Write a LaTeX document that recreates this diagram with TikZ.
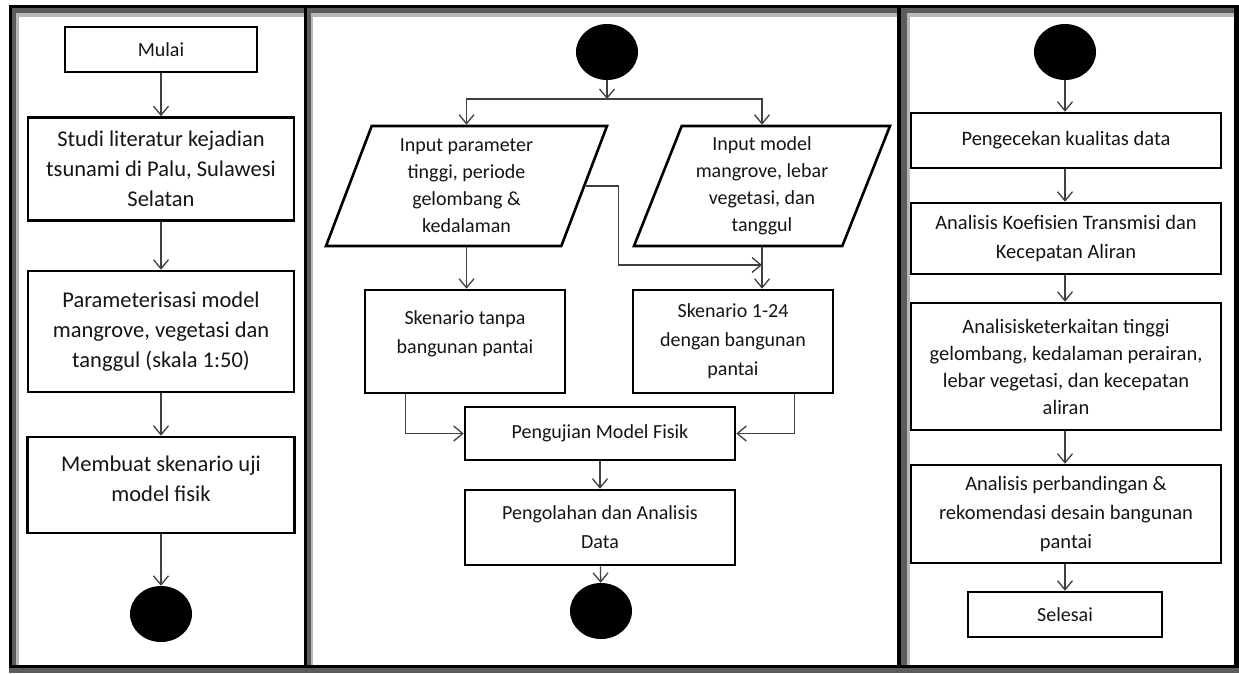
\documentclass[tikz,border=0pt]{standalone}
\usepackage{fontspec}
\setmainfont{Carlito}
\usetikzlibrary{arrows.meta,calc,positioning,shapes.geometric}
\definecolor{ink}{HTML}{151515}
\definecolor{wire}{HTML}{404040}
\definecolor{shadeDark}{HTML}{5C5C5C}
\definecolor{shadeLight}{HTML}{B8B8B8}
\tikzset{
  stepbox/.style={
    draw=black,
    line width=2.6pt,
    fill=white,
    align=center,
    text=ink,
    inner sep=2pt,
    font=\fontsize{20}{29}\selectfont
  },
  bigbox/.style={
    stepbox,
    font=\fontsize{22.5}{30}\selectfont
  },
  inputbox/.style={
    stepbox,
    trapezium,
    trapezium left angle=65,
    trapezium right angle=115,
    trapezium stretches body,
    minimum height=120pt,
    font=\fontsize{20}{27}\selectfont
  },
  dot/.style={
    ellipse,
    fill=black,
    draw=none,
    minimum width=62pt,
    minimum height=56pt,
    inner sep=0pt
  },
  flow/.style={
    -{Straight Barb[length=9pt,width=15pt]},
    draw=wire,
    line width=1.3pt
  }
}

\begin{document}
\begin{tikzpicture}[x=1pt,y=-1pt]
  \useasboundingbox (0,0) rectangle (1239,673);
  \fill[white] (0,0) rectangle (1239,673);

  % Panel frames
  \fill[shadeDark] (9,5) rectangle (1239,673);
  \fill[shadeLight] (16,13) rectangle (304,665);
  \fill[shadeLight] (311,13) rectangle (897,665);
  \fill[shadeLight] (907,13) rectangle (1234,665);
  \fill[white] (19,17) rectangle (304,665);
  \fill[white] (313,17) rectangle (897,665);
  \fill[white] (910,17) rectangle (1234,665);
  \fill[black] (9,5) rectangle (1239,8);
  \fill[black] (9,5) rectangle (12,668);
  \fill[black] (304,8) rectangle (307,668);
  \fill[black] (897,8) rectangle (901,668);
  \fill[black] (1234,8) rectangle (1239,668);
  \fill[black] (12,665) rectangle (307,668);
  \fill[black] (307,665) rectangle (901,668);
  \fill[black] (901,665) rectangle (1239,668);

  % Panel 1
  \node[stepbox, minimum width=192pt, minimum height=45pt] (mulai) at (161,49.5) {Mulai};
  \node[bigbox, minimum width=266pt, minimum height=103pt] (studi) at (161,169)
    {Studi literatur kejadian\\tsunami di Palu, Sulawesi\\Selatan};
  \node[bigbox, minimum width=266pt, minimum height=121pt] (param) at (161,331.5)
    {Parameterisasi model\\mangrove, vegetasi dan\\tanggul (skala 1:50)};
  \node[bigbox, minimum width=267pt, minimum height=96pt] (skenUji) at (161,485)
    {Membuat skenario uji\\model fisik\\[-18pt]~};
  \node[dot] (end1) at (161,614) {};

  \draw[flow] (mulai) -- (studi);
  \draw[flow] (studi) -- (param);
  \draw[flow] (param) -- (skenUji);
  \draw[flow] (skenUji) -- (end1);

  % Panel 2
  \node[dot] (start2) at (607,52) {};
  \coordinate (split) at (607,99);
  \node[inputbox, minimum width=281pt] (inL) at (466.5,186)
    {Input parameter\\tinggi, periode\\gelombang \&\\kedalaman};
  \node[inputbox, minimum width=256pt] (inR) at (762,186)
    {Input model\\mangrove, lebar\\vegetasi, dan\\tanggul};
  \coordinate (merge) at (762,265);
  \node[stepbox, minimum width=200pt, minimum height=103pt] (tanpa) at (465,341.5)
    {Skenario tanpa\\bangunan pantai\\[-11pt]~};
  \node[stepbox, minimum width=200pt, minimum height=103pt] (dengan) at (733,341.5)
    {Skenario 1-24\\dengan bangunan\\pantai};
  \node[stepbox, minimum width=270pt, minimum height=53pt] (uji) at (600,433.5)
    {Pengujian Model Fisik};
  \node[stepbox, minimum width=270pt, minimum height=75pt] (olah) at (600,527.5)
    {Pengolahan dan Analisis\\Data};
  \node[dot] (end2) at (601,611) {};

  \draw[flow] (start2) -- (split);
  \draw[flow] (split) -| (inL.north);
  \draw[flow] (split) -| (inR.north);
  \draw[flow] (inL.east) -- ++(33,0) |- (merge);
  \draw[flow] (inL.south) -- (tanpa.north -| inL.south);
  \draw[flow] (inR.south) -- (dengan.north -| inR.south);
  \draw[flow] ([xshift=42pt]tanpa.south west) |- (uji.west);
  \draw[flow] ([xshift=-40pt]dengan.south east) |- (uji.east);
  \draw[flow] (uji) -- (olah);
  \draw[flow] (olah) -- (end2);

  % Panel 3
  \node[dot] (start3) at (1065,52) {};
  \node[stepbox, minimum width=310pt, minimum height=55pt,
        font=\fontsize{20.5}{29}\selectfont] (cek) at (1066,140.5)
    {Pengecekan kualitas data};
  \node[stepbox, minimum width=310pt, minimum height=71pt,
        font=\fontsize{20.5}{29}\selectfont] (koef) at (1066,238.5)
    {Analisis Koefisien Transmisi dan\\Kecepatan Aliran};
  \node[stepbox, minimum width=310pt, minimum height=127pt,
        font=\fontsize{20.5}{27}\selectfont] (kait) at (1066,366.5)
    {Analisisketerkaitan tinggi\\gelombang, kedalaman perairan,\\lebar vegetasi, dan kecepatan\\aliran};
  \node[stepbox, minimum width=310pt, minimum height=98pt,
        font=\fontsize{20.5}{29}\selectfont] (banding) at (1066,514)
    {Analisis perbandingan \&\\rekomendasi desain bangunan\\pantai};
  \node[stepbox, minimum width=194pt, minimum height=45pt] (selesai) at (1065,614.5)
    {Selesai};

  \draw[flow] (start3) -- (cek.north -| start3);
  \draw[flow] (cek.south -| start3) -- (koef.north -| start3);
  \draw[flow] (koef.south -| start3) -- (kait.north -| start3);
  \draw[flow] (kait.south -| start3) -- (banding.north -| start3);
  \draw[flow] (banding.south -| start3) -- (selesai);
\end{tikzpicture}
\end{document}
